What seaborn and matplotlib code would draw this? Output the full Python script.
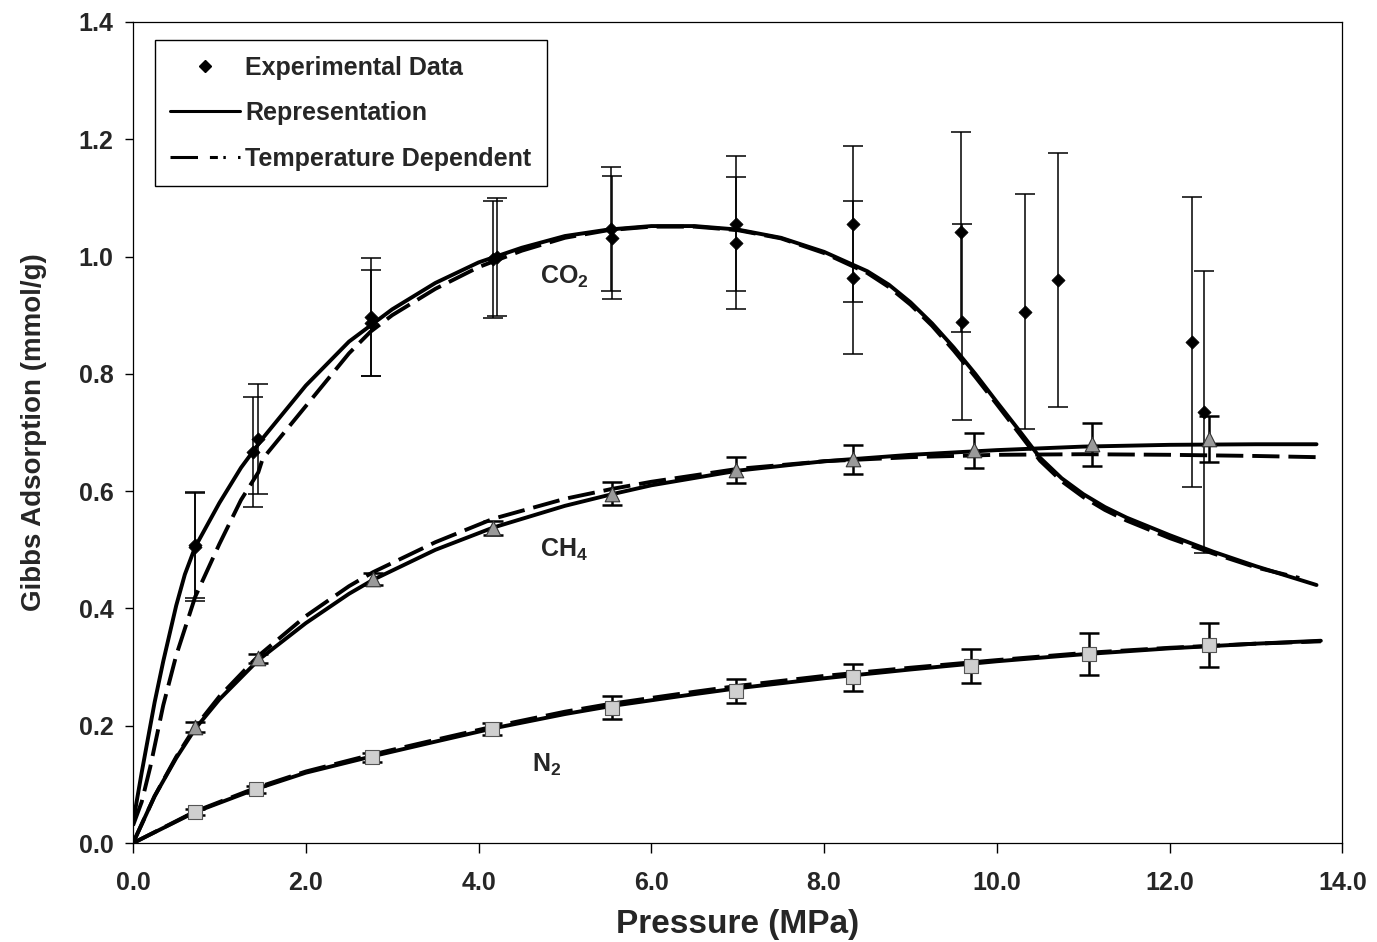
import matplotlib
matplotlib.use("Agg")
import matplotlib.pyplot as plt
from matplotlib.lines import Line2D
import numpy as np
import pandas as pd
import seaborn as sns

# ---------------- experimental data (pressure MPa, adsorption mmol/g, error) ----------------
co2_p = [0.72, 0.72, 1.39, 1.45, 2.75, 2.76, 4.17, 4.21, 5.53, 5.55, 6.98, 6.98,
         8.33, 8.33, 9.59, 9.60, 10.33, 10.71, 12.26, 12.40]
co2_q = [0.508, 0.505, 0.667, 0.689, 0.897, 0.887, 0.995, 0.999, 1.047, 1.032, 1.056, 1.023,
         1.056, 0.964, 1.042, 0.888, 0.906, 0.960, 0.854, 0.735]
co2_err = [0.090, 0.092, 0.094, 0.093, 0.100, 0.090, 0.100, 0.100, 0.105, 0.105, 0.115, 0.113,
           0.133, 0.130, 0.170, 0.167, 0.200, 0.217, 0.247, 0.240]

ch4_p = [0.72, 1.45, 2.78, 4.17, 5.55, 6.98, 8.33, 9.74, 11.10, 12.46]
ch4_q = [0.198, 0.315, 0.450, 0.537, 0.596, 0.636, 0.654, 0.670, 0.680, 0.689]
ch4_err = [0.008, 0.008, 0.010, 0.012, 0.020, 0.022, 0.025, 0.030, 0.037, 0.040]

n2_p = [0.72, 1.42, 2.77, 4.15, 5.55, 6.98, 8.33, 9.70, 11.07, 12.45]
n2_q = [0.053, 0.092, 0.146, 0.194, 0.231, 0.259, 0.283, 0.302, 0.322, 0.338]
n2_err = [0.005, 0.006, 0.008, 0.010, 0.020, 0.021, 0.023, 0.029, 0.036, 0.037]

# ---------------- model curves ----------------
co2_rep_p = [0.0, 0.1, 0.2, 0.25, 0.35, 0.5, 0.6, 0.72, 1.0, 1.25, 1.5, 2.0, 2.5, 3.0,
             3.5, 4.0, 4.5, 5.0, 5.5, 6.0, 6.5, 7.0, 7.5, 8.0, 8.5, 8.75, 9.0, 9.25, 9.5,
             9.75, 10.0, 10.25, 10.5, 10.75, 11.0, 11.25, 11.5, 12.0, 12.5, 13.0, 13.7]
co2_rep_q = [0.035, 0.12, 0.20, 0.24, 0.31, 0.405, 0.458, 0.505, 0.58, 0.64, 0.69,
             0.78, 0.855, 0.91, 0.955, 0.99, 1.015, 1.035, 1.046, 1.052, 1.052, 1.046,
             1.032, 1.008, 0.975, 0.952, 0.922, 0.886, 0.845, 0.800, 0.752, 0.705, 0.657,
             0.622, 0.595, 0.573, 0.555, 0.525, 0.497, 0.472, 0.440]

co2_td_p = [0.0, 0.1, 0.2, 0.35, 0.5, 0.72, 1.0, 1.25, 1.45, 1.5, 1.75, 2.0, 2.5, 2.75, 3.0,
            3.5, 4.0, 4.5, 5.0, 5.5, 6.0, 6.5, 7.0, 7.5, 8.0, 8.5, 8.75, 9.0, 9.25, 9.5,
            9.75, 10.0, 10.25, 10.5, 10.75, 11.0, 11.25, 11.5, 12.0, 12.5, 13.0, 13.5]
co2_td_q = [0.030, 0.07, 0.13, 0.235, 0.32, 0.42, 0.51, 0.585, 0.632, 0.655, 0.70, 0.745,
            0.835, 0.872, 0.90, 0.945, 0.982, 1.010, 1.032, 1.045, 1.051, 1.051, 1.045,
            1.031, 1.006, 0.972, 0.948, 0.918, 0.882, 0.840, 0.795, 0.748, 0.700, 0.652,
            0.617, 0.590, 0.568, 0.550, 0.520, 0.494, 0.470, 0.452]

ch4_rep_p = [0.0, 0.25, 0.5, 0.72, 1.0, 1.45, 2.0, 2.5, 2.78, 3.5, 4.17, 5.0, 5.55, 6.0,
             7.0, 8.0, 9.0, 10.0, 11.0, 12.0, 13.0, 13.7]
ch4_rep_q = [0.0, 0.08, 0.145, 0.195, 0.245, 0.312, 0.375, 0.425, 0.449, 0.500, 0.538,
             0.575, 0.595, 0.610, 0.635, 0.651, 0.662, 0.670, 0.676, 0.679, 0.680, 0.680]

ch4_td_p = [0.0, 0.25, 0.5, 0.72, 1.0, 1.45, 2.0, 2.5, 2.78, 3.5, 4.17, 5.0, 5.55, 6.0,
            7.0, 8.0, 9.0, 10.0, 11.0, 12.0, 13.0, 13.7]
ch4_td_q = [0.0, 0.08, 0.147, 0.198, 0.250, 0.319, 0.387, 0.438, 0.462, 0.513, 0.553,
            0.587, 0.604, 0.616, 0.638, 0.651, 0.658, 0.662, 0.663, 0.662, 0.660, 0.658]

n2_rep_p = [0.0, 0.72, 1.42, 2.0, 2.77, 3.5, 4.15, 5.0, 5.55, 6.5, 7.0, 8.0, 9.0, 10.0,
            11.0, 12.0, 13.0, 13.75]
n2_rep_q = [0.0, 0.053, 0.092, 0.120, 0.148, 0.173, 0.195, 0.220, 0.234, 0.254, 0.264,
            0.281, 0.296, 0.310, 0.322, 0.332, 0.340, 0.345]

n2_td_p = [0.0, 0.72, 1.42, 2.0, 2.77, 3.5, 4.15, 5.0, 5.55, 6.5, 7.0, 8.0, 9.0, 10.0,
           11.0, 12.0, 13.0, 13.75]
n2_td_q = [0.0, 0.054, 0.094, 0.122, 0.151, 0.176, 0.198, 0.224, 0.238, 0.258, 0.268,
           0.285, 0.299, 0.312, 0.324, 0.333, 0.340, 0.344]

x_ticks = [0.0, 2.0, 4.0, 6.0, 8.0, 10.0, 12.0, 14.0]
y_ticks = [0.0, 0.2, 0.4, 0.6, 0.8, 1.0, 1.2, 1.4]

# ---------------- styling ----------------
sns.set_theme(style="white")
plt.rcParams["font.family"] = ["Liberation Sans", "DejaVu Sans"]
plt.rcParams["font.weight"] = "bold"
plt.rcParams["mathtext.fontset"] = "custom"
plt.rcParams["mathtext.bf"] = "Liberation Sans:bold"
plt.rcParams["mathtext.rm"] = "Liberation Sans:bold"
plt.rcParams["mathtext.default"] = "bf"

fig = plt.figure(figsize=(13.77, 9.42), dpi=100)
ax = fig.add_axes([0.0966, 0.105, 0.8783, 0.8717])

LW = 2.8
DASH = (0, (7, 2.3))

curves = [
    (co2_rep_p, co2_rep_q, "-"), (co2_td_p, co2_td_q, DASH),
    (ch4_rep_p, ch4_rep_q, "-"), (ch4_td_p, ch4_td_q, DASH),
    (n2_rep_p, n2_rep_q, "-"), (n2_td_p, n2_td_q, DASH),
]
for px, qy, ls in curves:
    df = pd.DataFrame({"p": px, "q": qy})
    sns.lineplot(data=df, x="p", y="q", ax=ax, color="black", lw=LW,
                 linestyle=ls, sort=False, estimator=None, zorder=3)

# error bars
ax.errorbar(co2_p, co2_q, yerr=co2_err, fmt="none", ecolor="black",
            elinewidth=1.1, capsize=7, capthick=1.1, zorder=4)
ax.errorbar(ch4_p, ch4_q, yerr=ch4_err, fmt="none", ecolor="black",
            elinewidth=1.8, capsize=7, capthick=1.8, zorder=4)
ax.errorbar(n2_p, n2_q, yerr=n2_err, fmt="none", ecolor="black",
            elinewidth=1.8, capsize=7, capthick=1.8, zorder=4)

# markers
sns.scatterplot(x=co2_p, y=co2_q, ax=ax, marker="D", s=45, color="black",
                edgecolor="black", linewidth=0.5, zorder=5)
sns.scatterplot(x=ch4_p, y=ch4_q, ax=ax, marker="^", s=110, color="#9a9a9a",
                edgecolor="#333333", linewidth=0.8, zorder=5)
sns.scatterplot(x=n2_p, y=n2_q, ax=ax, marker="s", s=110, color="#cfcfcf",
                edgecolor="#555555", linewidth=0.8, zorder=5)

# gas labels
ax.text(4.71, 0.965, "CO$_2$", fontsize=18, fontweight="bold", va="center", ha="left")
ax.text(4.71, 0.500, "CH$_4$", fontsize=18, fontweight="bold", va="center", ha="left")
ax.text(4.62, 0.133, "N$_2$", fontsize=18, fontweight="bold", va="center", ha="left")

# axes
ax.set_xlim(0, 14)
ax.set_ylim(0, 1.4)
ax.set_xticks(x_ticks)
ax.set_yticks(y_ticks)
ax.set_xticklabels([f"{v:.1f}" for v in x_ticks], fontsize=18, fontweight="bold")
ax.set_yticklabels([f"{v:.1f}" for v in y_ticks], fontsize=18, fontweight="bold")
ax.tick_params(axis="x", direction="out", length=7, width=1, color="black", pad=13,
               bottom=True)
ax.tick_params(axis="y", direction="out", length=6, width=1, color="black", pad=8,
               left=True)
for sp in ax.spines.values():
    sp.set_visible(True)
    sp.set_color("black")
    sp.set_linewidth(0.9)
ax.set_xlabel("Pressure (MPa)", fontsize=24, fontweight="bold", labelpad=10)
ax.set_ylabel("Gibbs Adsorption (mmol/g)", fontsize=20, fontweight="bold", labelpad=23)
ax.grid(False)

# legend
handles = [
    Line2D([], [], color="black", marker="D", markersize=6, linestyle="none"),
    Line2D([], [], color="black", lw=2.2, linestyle="-"),
    Line2D([], [], color="black", lw=2.2, linestyle=(0, (9, 3.9, 2.6, 1.8, 0.8, 4))),
]
leg = ax.legend(handles, ["Experimental Data", "Representation", "Temperature Dependent"],
                loc="upper left", bbox_to_anchor=(0.018, 0.978), fontsize=18,
                frameon=True, fancybox=False, edgecolor="black", framealpha=1,
                handlelength=2.8, handletextpad=0.2, labelspacing=0.86,
                borderpad=0.62, borderaxespad=0)
leg.get_frame().set_linewidth(1.0)
for t in leg.get_texts():
    t.set_fontweight("bold")

fig.savefig("out.png", dpi=100)
